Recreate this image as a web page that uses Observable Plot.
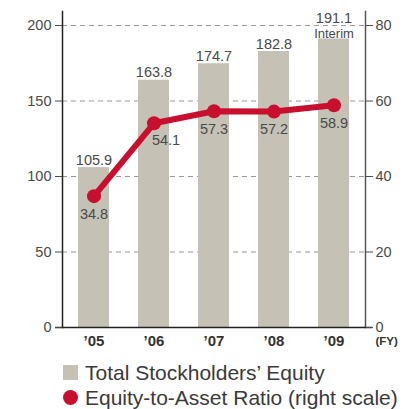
<!DOCTYPE html>
<html><head><meta charset="utf-8">
<script src="https://cdn.jsdelivr.net/npm/d3@7"></script>
<script src="https://cdn.jsdelivr.net/npm/@observablehq/plot@0.6"></script>
<style>
body{margin:0;background:#fff;font-family:"Liberation Sans",Arial,sans-serif;}
#wrap{position:relative;width:413px;height:409px;overflow:hidden;}
.leg{position:absolute;left:63px;font-size:21px;color:#3a3a3a;display:flex;align-items:center;white-space:nowrap;line-height:1;}
.sw{width:15px;height:15px;background:#c5c1b5;margin-right:7px;}
.dot{width:15px;height:15px;border-radius:50%;background:#c8102e;margin-right:7px;}
</style></head>
<body><div id="wrap"></div>
<script>
const years = ["\u201905","\u201906","\u201907","\u201908","\u201909"];
const equity = [105.9, 163.8, 174.7, 182.8, 191.1];
const ratio = [34.8, 54.1, 57.3, 57.2, 58.9];
const equityNotes = ["", "", "", "", "Interim"];
const leftTicks = [0, 50, 100, 150, 200];
const rightTicks = [0, 20, 40, 60, 80];
const leftMax = 200, rightMax = 80;
const k = leftMax / rightMax;

const data = years.map((y, i) => ({year: y, equity: equity[i], ratio: ratio[i], r: ratio[i] * k, note: equityNotes[i], i}));
const txt = "#4a4a4a";
const fs = 14.5;

const chart = Plot.plot({
  width: 413, height: 355,
  marginLeft: 62, marginRight: 48, marginTop: 11, marginBottom: 28,
  style: {fontFamily: "Liberation Sans, Arial, sans-serif", background: "#fff"},
  x: {domain: years, paddingInner: 0.49, paddingOuter: 0.25},
  y: {domain: [0, 209.3]},
  marks: [
    Plot.ruleY(leftTicks.slice(1), {stroke: "#999", strokeDasharray: "5,4", strokeWidth: 1}),
    Plot.barY(data, {x: "year", y: "equity", fill: "#c5c1b5"}),
    Plot.frame({anchor: "left", stroke: "#222", strokeWidth: 1.5}),
    Plot.frame({anchor: "right", stroke: "#555", strokeWidth: 1.5}),
    Plot.ruleY([0], {stroke: "#222", strokeWidth: 1.5, insetLeft: -7, insetRight: -7}),
    Plot.axisY({ticks: leftTicks, tickSize: 7, tickPadding: 4, fontSize: fs, color: txt, label: null, tickFormat: d => d}),
    Plot.axisY({anchor: "right", ticks: rightTicks.map(d => d * k), tickSize: 7, tickPadding: 3, fontSize: fs, color: txt, label: null, tickFormat: d => d / k}),
    Plot.axisX({tickSize: 0, tickPadding: 8, fontSize: 15, fontWeight: "bold", color: "#333", label: null}),
    Plot.text(["(FY)"], {frameAnchor: "bottom-right", dx: 10, dy: 17, textAnchor: "start", fontSize: 11.5, fontWeight: "bold", fill: "#333"}),
    Plot.text(data, {x: "year", y: "equity", text: d => d.equity.toFixed(1), lineAnchor: "bottom", fontSize: fs, fill: txt,
      filter: d => !d.note, dy: -3}),
    Plot.text(data, {x: "year", y: "equity", text: d => d.equity.toFixed(1), lineAnchor: "bottom", fontSize: fs, fill: txt,
      filter: d => d.note, dy: -16}),
    Plot.text(data, {x: "year", y: "equity", text: "note", lineAnchor: "bottom", fontSize: 13, fill: txt,
      filter: d => d.note, dy: -1}),
    Plot.line(data, {x: "year", y: "r", stroke: "#c8102e", strokeWidth: 6}),
    Plot.dot(data, {x: "year", y: "r", r: 7, fill: "#c8102e"}),
    Plot.text(data, {x: "year", y: "r", text: d => d.ratio.toFixed(1), filter: d => d.i !== 1, dy: 18, fontSize: fs, fill: txt}),
    Plot.text(data, {x: "year", y: "r", text: d => d.ratio.toFixed(1), filter: d => d.i === 1, dy: 17, dx: 12, fontSize: fs, fill: txt})
  ]
});
const wrap = document.getElementById("wrap");
wrap.appendChild(chart);
const l1 = document.createElement("div");
l1.className = "leg"; l1.style.top = "362px";
l1.innerHTML = '<span class="sw"></span><span>Total Stockholders\u2019 Equity</span>';
const l2 = document.createElement("div");
l2.className = "leg"; l2.style.top = "387px";
l2.innerHTML = '<span class="dot"></span><span>Equity-to-Asset Ratio (right scale)</span>';
wrap.appendChild(l1); wrap.appendChild(l2);
</script></body></html>
